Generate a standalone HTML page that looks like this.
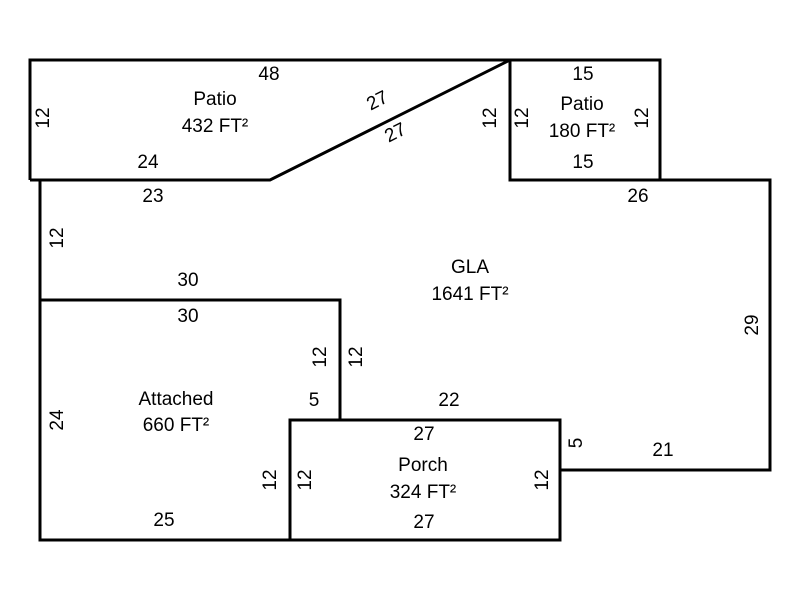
<!DOCTYPE html>
<html><head><style>body{margin:0;background:#fff}</style></head><body>
<svg width="800" height="600" xmlns="http://www.w3.org/2000/svg" font-family="Liberation Sans, Arial, sans-serif" font-size="19" fill="#000">
<g stroke="#000" stroke-width="3" fill="none">
<polyline points="30,180 30,60 510,60 660,60 660,180 510,180 510,60"/>
<polyline points="30,180 270,180 510,60"/>
<polyline points="40,180 40,540 290,540"/>
<polyline points="510,180 770,180 770,470 560,470"/>
<rect x="290" y="420" width="270" height="120"/>
<polyline points="40,300 340,300 340,420"/>
</g>
<g text-anchor="middle">
<text x="269" y="80">48</text>
<text x="215" y="105">Patio</text>
<text x="215" y="132">432 FT²</text>
<text x="148" y="168">24</text>
<text x="153" y="202">23</text>
<text x="583" y="80">15</text>
<text x="582" y="110">Patio</text>
<text x="582" y="137">180 FT²</text>
<text x="583" y="168">15</text>
<text x="638" y="202">26</text>
<text x="470" y="273">GLA</text>
<text x="470" y="300">1641 FT²</text>
<text x="188" y="286">30</text>
<text x="188" y="322">30</text>
<text x="176" y="405">Attached</text>
<text x="176" y="431">660 FT²</text>
<text x="314" y="406">5</text>
<text x="449" y="406">22</text>
<text x="424" y="440">27</text>
<text x="423" y="471">Porch</text>
<text x="423" y="498">324 FT²</text>
<text x="424" y="528">27</text>
<text x="663" y="456">21</text>
<text x="164" y="526">25</text>
<text transform="translate(380,106) rotate(-27)">27</text>
<text transform="translate(398,138) rotate(-27)">27</text>
</g>
<g text-anchor="middle">
<text transform="translate(49,118) rotate(-90)">12</text>
<text transform="translate(496,118) rotate(-90)">12</text>
<text transform="translate(528,118) rotate(-90)">12</text>
<text transform="translate(648,118) rotate(-90)">12</text>
<text transform="translate(63,238) rotate(-90)">12</text>
<text transform="translate(758,325) rotate(-90)">29</text>
<text transform="translate(326,357) rotate(-90)">12</text>
<text transform="translate(362,357) rotate(-90)">12</text>
<text transform="translate(63,420) rotate(-90)">24</text>
<text transform="translate(276,480) rotate(-90)">12</text>
<text transform="translate(311,480) rotate(-90)">12</text>
<text transform="translate(548,480) rotate(-90)">12</text>
<text transform="translate(582,443) rotate(-90)">5</text>
</g>
</svg>
</body></html>
